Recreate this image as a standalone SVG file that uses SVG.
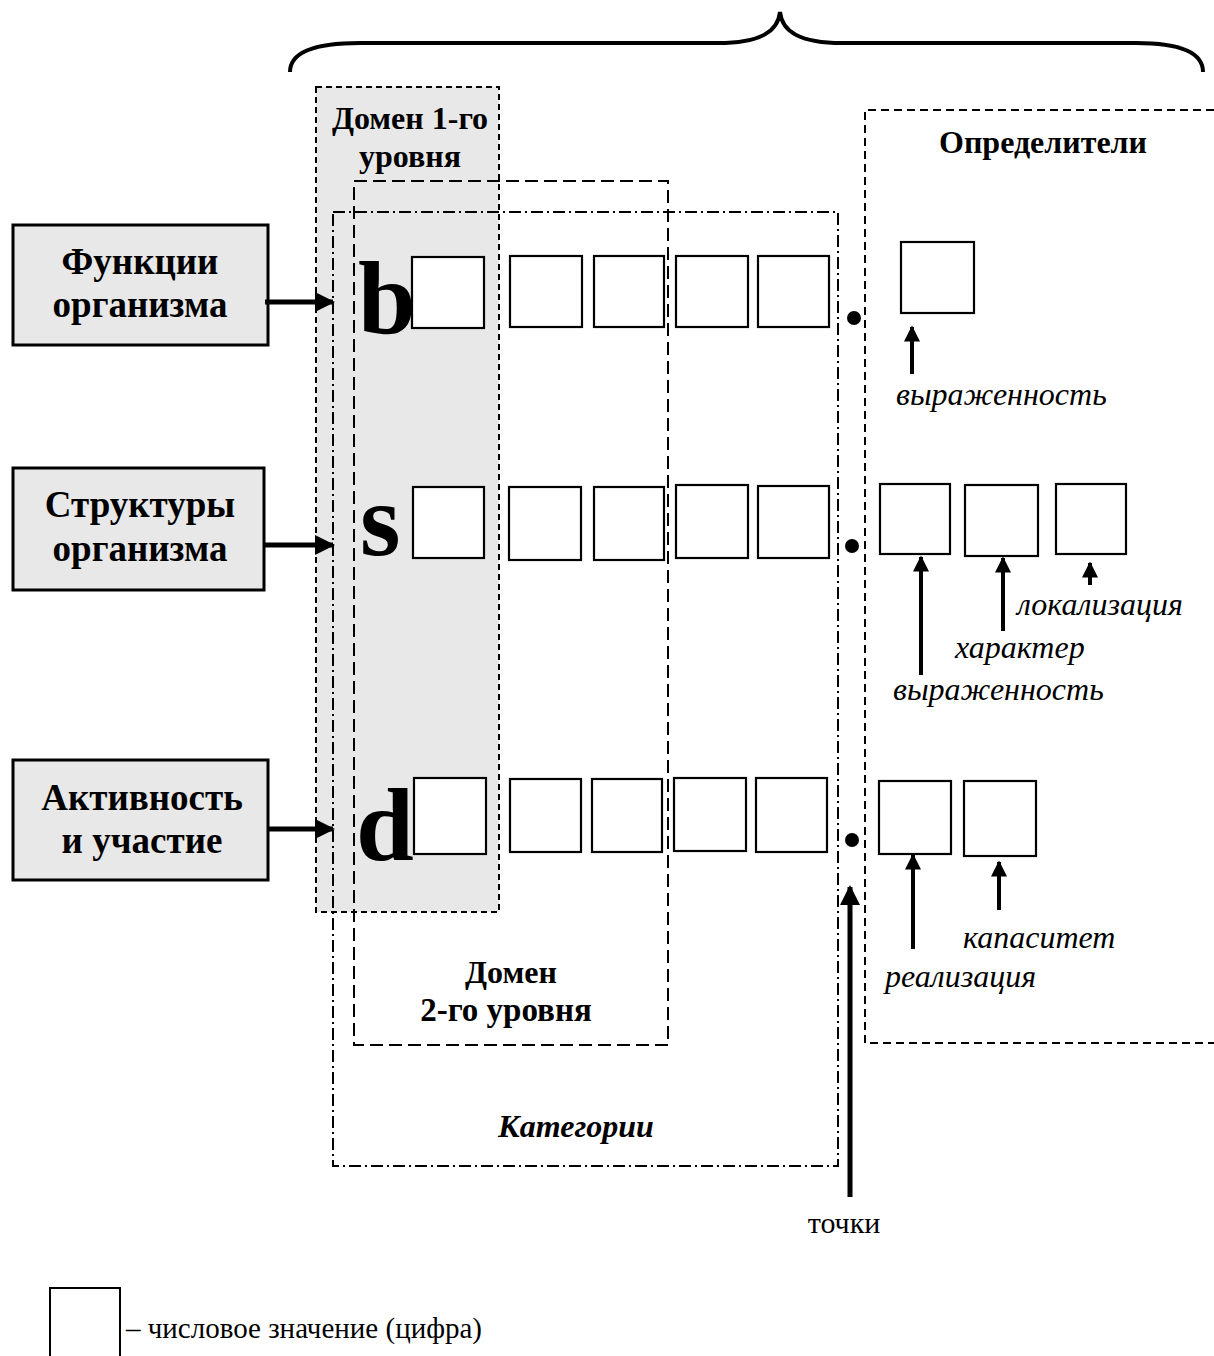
<svg xmlns="http://www.w3.org/2000/svg" width="1214" height="1356" viewBox="0 0 1214 1356">
<style>
.bt{font-family:"Liberation Serif","Times New Roman",serif;font-weight:bold;fill:#000}
.it{font-family:"Liberation Serif","Times New Roman",serif;font-style:italic;fill:#000;font-size:32px}
.rg{font-family:"Liberation Serif","Times New Roman",serif;fill:#000}
.sq{fill:#fff;stroke:#000;stroke-width:2.2}
.src{fill:#e8e8e8;stroke:#000;stroke-width:3}
.ar{stroke:#000;stroke-width:5;fill:none}
.ar2{stroke:#000;stroke-width:4;fill:none}
</style>
<defs>
<marker id="ah" viewBox="0 0 10 10" refX="9" refY="5" markerWidth="4" markerHeight="4" markerUnits="strokeWidth" orient="auto"><path d="M0,0L10,5L0,10z" fill="#000"/></marker>
<marker id="ah2" viewBox="0 0 10 10" refX="9" refY="5" markerWidth="4.5" markerHeight="4" markerUnits="strokeWidth" orient="auto"><path d="M0,0L10,5L0,10z" fill="#000"/></marker>
</defs>
<rect width="1214" height="1356" fill="#fff"/>

<path id="brace" d="M290,72 C290,52 315,43 360,43 L718,43 C760,43 778,32 780,12 C782,32 800,43 842,43 L1136,43 C1180,43 1203,52 1203,72" fill="none" stroke="#000" stroke-width="4"/>

<g id="domain1">
<rect x="316" y="87" width="183" height="825" fill="#e8e8e8" stroke="#000" stroke-width="2" stroke-dasharray="6,4"/>
<text class="bt" font-size="32" x="410" y="129" text-anchor="middle">Домен 1-го</text>
<text class="bt" font-size="32" x="410" y="167" text-anchor="middle">уровня</text>
</g>

<g id="domain2">
<rect x="354" y="181" width="314" height="864" fill="none" stroke="#000" stroke-width="2" stroke-dasharray="13,6"/>
<text class="bt" font-size="32" x="511" y="983" text-anchor="middle">Домен</text>
<text class="bt" font-size="33" x="506" y="1021" text-anchor="middle">2-го уровня</text>
</g>

<g id="categories">
<rect x="333" y="212" width="505" height="954" fill="none" stroke="#000" stroke-width="2" stroke-dasharray="12,4,2,4"/>
<text class="bt" font-size="32" font-style="italic" x="576" y="1137" text-anchor="middle">Категории</text>
</g>

<g id="determinants">
<path d="M1214,110 H865 V1043 H1214" fill="none" stroke="#000" stroke-width="2" stroke-dasharray="8,5"/>
<text class="bt" font-size="32" x="1043" y="153" text-anchor="middle">Определители</text>
</g>

<g id="functions">
<rect class="src" x="13" y="225" width="255" height="120"/>
<text class="bt" font-size="37" x="140" y="274" text-anchor="middle">Функции</text>
<text class="bt" font-size="37" x="140" y="317" text-anchor="middle">организма</text>
</g>
<g id="structures">
<rect class="src" x="13" y="468" width="251" height="122"/>
<text class="bt" font-size="37" x="140" y="517" text-anchor="middle">Структуры</text>
<text class="bt" font-size="37" x="140" y="561" text-anchor="middle">организма</text>
</g>
<g id="activity">
<rect class="src" x="13" y="760" width="255" height="120"/>
<text class="bt" font-size="37" x="142" y="810" text-anchor="middle">Активность</text>
<text class="bt" font-size="37" x="142" y="853" text-anchor="middle">и участие</text>
</g>

<g id="row-b">
<text class="bt" font-size="104" x="358" y="333">b</text>
<rect class="sq" x="412" y="257" width="72" height="71"/>
<rect class="sq" x="510" y="256" width="72" height="71"/>
<rect class="sq" x="594" y="256" width="70" height="71"/>
<rect class="sq" x="676" y="256" width="72" height="71"/>
<rect class="sq" x="758" y="256" width="71" height="71"/>
<circle cx="854" cy="318" r="7"/>
<rect class="sq" x="901" y="242" width="73" height="71"/>
</g>

<g id="row-s">
<text class="bt" font-size="104" x="360" y="555">s</text>
<rect class="sq" x="413" y="487" width="71" height="71"/>
<rect class="sq" x="509" y="487" width="72" height="73"/>
<rect class="sq" x="594" y="487" width="70" height="73"/>
<rect class="sq" x="676" y="485" width="72" height="73"/>
<rect class="sq" x="758" y="486" width="71" height="72"/>
<circle cx="852" cy="546" r="7"/>
<rect class="sq" x="880" y="484" width="70" height="70"/>
<rect class="sq" x="965" y="485" width="73" height="71"/>
<rect class="sq" x="1056" y="484" width="70" height="70"/>
</g>

<g id="row-d">
<text class="bt" font-size="104" x="356" y="860">d</text>
<rect class="sq" x="414" y="778" width="72" height="76"/>
<rect class="sq" x="510" y="779" width="71" height="73"/>
<rect class="sq" x="592" y="779" width="70" height="73"/>
<rect class="sq" x="674" y="778" width="72" height="73"/>
<rect class="sq" x="756" y="778" width="71" height="74"/>
<circle cx="852" cy="840" r="7"/>
<rect class="sq" x="879" y="781" width="72" height="73"/>
<rect class="sq" x="964" y="781" width="72" height="75"/>
</g>

<g id="labels">
<text class="it" x="896" y="405">выраженность</text>
<text class="it" x="1017" y="615">локализация</text>
<text class="it" x="955" y="658">характер</text>
<text class="it" x="893" y="700">выраженность</text>
<text class="it" x="963" y="948">капаситет</text>
<text class="it" x="885" y="987">реализация</text>
<text class="rg" font-size="30" x="844" y="1233" text-anchor="middle">точки</text>
</g>

<g id="connectors">
<line class="ar" x1="265" y1="302" x2="333" y2="302" marker-end="url(#ah)"/>
<line class="ar" x1="264" y1="545" x2="333" y2="545" marker-end="url(#ah)"/>
<line class="ar" x1="268" y1="829" x2="333" y2="829" marker-end="url(#ah)"/>
<line class="ar2" x1="912" y1="374" x2="912" y2="327" marker-end="url(#ah2)"/>
<line class="ar2" x1="921" y1="675" x2="921" y2="557" marker-end="url(#ah2)"/>
<line class="ar2" x1="1003" y1="631" x2="1003" y2="558" marker-end="url(#ah2)"/>
<line class="ar2" x1="1090" y1="585" x2="1090" y2="563" marker-end="url(#ah2)"/>
<line class="ar2" x1="913" y1="949" x2="913" y2="855" marker-end="url(#ah2)"/>
<line class="ar2" x1="999" y1="910" x2="999" y2="862" marker-end="url(#ah2)"/>
<line class="ar" x1="850" y1="1197" x2="850" y2="887" marker-end="url(#ah)"/>
</g>

<g id="legend">
<rect x="50" y="1288" width="70" height="80" fill="#fff" stroke="#000" stroke-width="2"/>
<text class="rg" font-size="29" x="126" y="1338">– числовое значение (цифра)</text>
</g>
</svg>
